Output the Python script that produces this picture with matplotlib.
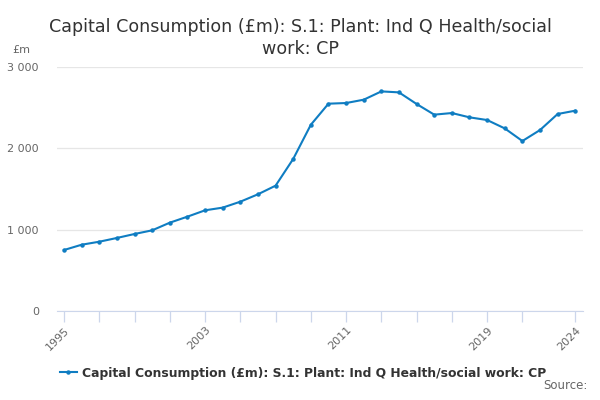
import matplotlib.pyplot as plt
from matplotlib.ticker import FuncFormatter

# Data
years = list(range(1995, 2025))
values = [750, 815, 852, 898, 947, 992, 1086, 1160, 1238, 1271,
          1344, 1435, 1541, 1870, 2290, 2549, 2557, 2598, 2700, 2688,
          2545, 2414, 2434, 2381, 2348, 2245, 2090, 2225, 2422, 2463]
tick_years = [y for y in range(1995, 2022, 2)] + [2024]
label_years = [1995, 2003, 2011, 2019, 2024]

title = "Capital Consumption (£m): S.1: Plant: Ind Q Health/social\nwork: CP"
series_name = "Capital Consumption (£m): S.1: Plant: Ind Q Health/social work: CP"

plt.rcParams['font.family'] = ['DejaVu Sans']

fig = plt.figure(figsize=(6, 4), dpi=100)
ax = fig.add_axes([0.095, 0.2225, 0.877, 0.61])

line_color = '#0f7dc2'
ax.plot(years, values, color=line_color, linewidth=1.5, marker='o',
        markersize=2.2, label=series_name)

ax.set_xlim(1994.6, 2024.45)
ax.set_ylim(0, 3000)
ax.set_yticks([0, 1000, 2000, 3000])
ax.yaxis.set_major_formatter(FuncFormatter(lambda v, p: f"{int(v):,}".replace(",", " ")))
ax.grid(axis='y', color='#e6e6e6', linewidth=0.9)
ax.set_axisbelow(True)

ax.set_xticks(tick_years)
ax.set_xticklabels([str(y) if y in label_years else '' for y in tick_years],
                   rotation=45, ha='right', rotation_mode='anchor')

for s in ['top', 'right', 'left']:
    ax.spines[s].set_visible(False)
ax.spines['bottom'].set_color('#ccd6eb')
ax.tick_params(axis='x', colors='#ccd6eb', length=8, width=0.9, labelcolor='#666666',
               labelsize=8, pad=2)
ax.tick_params(axis='y', length=0, labelcolor='#666666', labelsize=8, pad=13)

fig.text(0.5, 0.955, title, ha='center', va='top', fontsize=12.6,
         color='#333333', linespacing=1.25)
fig.text(0.02, 0.868, '£m', fontsize=8, color='#666666', ha='left')

leg = fig.legend(loc='center', bbox_to_anchor=(0.505, 0.067), frameon=False,
                 fontsize=8.9, handlelength=1.4, handletextpad=0.4)
for t in leg.get_texts():
    t.set_color('#333333')
    t.set_fontweight('bold')

fig.text(0.98, 0.02, 'Source:', ha='right', va='bottom', fontsize=8.5, color='#666666')

fig.savefig('out.png', dpi=100)
